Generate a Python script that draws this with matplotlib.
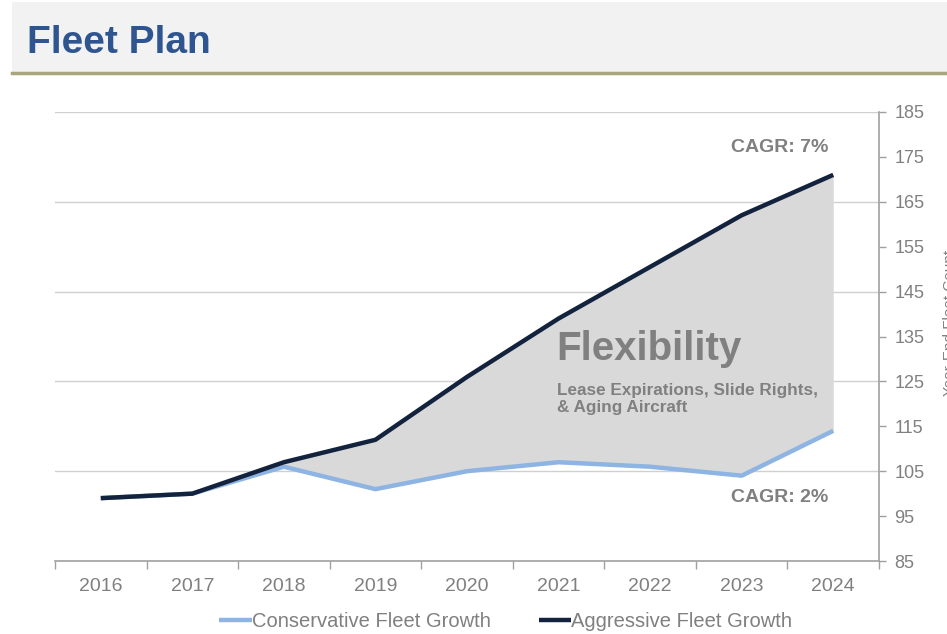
import numpy as np
import matplotlib.pyplot as plt
from matplotlib.patches import Rectangle
from matplotlib.lines import Line2D

plt.rcParams['font.family'] = ['Liberation Sans', 'DejaVu Sans']

YEARS        = ['2016', '2017', '2018', '2019', '2020', '2021', '2022', '2023', '2024']
CONSERVATIVE = [99, 100, 106, 101, 105, 107, 106, 104, 114]
AGGRESSIVE   = [99, 100, 107, 112, 126, 139, 150.5, 162, 171]
Y_TICKS      = list(range(85, 186, 10))
GRID_VALUES  = [105, 125, 145, 165, 185]

NAVY  = '#13233d'
LIGHT = '#8db4e2'
GREY  = '#808080'

fig = plt.figure(figsize=(9.47, 6.34), dpi=100)

# header band with the olive underline
fig.patches.append(Rectangle((12 / 947, 1 - 72 / 634), 1, 70 / 634, transform=fig.transFigure,
                             facecolor='#f2f2f2', edgecolor='none', zorder=0))
fig.add_artist(Line2D([12 / 947, 1], [1 - 73 / 634] * 2, color='#a9a57c', lw=2.5))
fig.text(27 / 947, 1 - 53 / 634, 'Fleet Plan', fontsize=28, fontweight='bold',
         color='#2f5591', va='baseline')

ax = fig.add_axes([55 / 947, 1 - 561 / 634, 824 / 947, 449 / 634])
x = np.arange(len(YEARS))

ax.fill_between(x, CONSERVATIVE, AGGRESSIVE, color='#d9d9d9', lw=0, zorder=1)
ax.plot(x, CONSERVATIVE, color=LIGHT, lw=3.2, zorder=3, solid_capstyle='butt',
        label='Conservative Fleet Growth')
ax.plot(x, AGGRESSIVE, color=NAVY, lw=3.2, zorder=4, solid_capstyle='butt',
        label='Aggressive Fleet Growth')

for g in GRID_VALUES:
    ax.axhline(g, color='#d0d0d0', lw=1, zorder=0)

ax.set_xlim(-0.5, len(YEARS) - 0.5)
ax.set_ylim(85, 185)
ax.set_xticks(x)
ax.set_xticklabels(YEARS)
ax.set_xticks(np.arange(-0.5, len(YEARS)), minor=True)
ax.tick_params(axis='x', which='major', length=0, pad=12, labelsize=14, labelcolor=GREY)
ax.tick_params(axis='x', which='minor', length=6, color='#a0a0a0', width=1)

ax.yaxis.tick_right()
ax.set_yticks(Y_TICKS)
ax.tick_params(axis='y', length=5, color='#a0a0a0', width=1, pad=6,
               labelsize=13, labelcolor=GREY)

for side in ('top', 'left'):
    ax.spines[side].set_visible(False)
for side in ('bottom', 'right'):
    ax.spines[side].set_color('#a0a0a0')
    ax.spines[side].set_linewidth(1.2)

ax.text(4.98, 129.8, 'Flexibility', fontsize=29, fontweight='bold', color=GREY, va='baseline')
ax.text(4.98, 122.0, 'Lease Expirations, Slide Rights,', fontsize=12.3, fontweight='bold',
        color=GREY, va='baseline')
ax.text(4.98, 118.2, '& Aging Aircraft', fontsize=12.3, fontweight='bold',
        color=GREY, va='baseline')
ax.text(7.42, 176.1, 'CAGR: 7%', fontsize=14, fontweight='bold', color=GREY,
        ha='center', va='baseline')
ax.text(7.42, 98.1, 'CAGR: 2%', fontsize=14, fontweight='bold', color=GREY,
        ha='center', va='baseline')

fig.text(943 / 947, 1 - 323 / 634, 'Year-End Fleet Count', rotation=90, fontsize=11,
         color=GREY, ha='left', va='center')

leg = ax.legend(loc='center', bbox_to_anchor=(0.547, -0.134), ncol=2, frameon=False,
                fontsize=14.5, handlelength=1.6, handletextpad=0.0, columnspacing=2.4)
for t in leg.get_texts():
    t.set_color(GREY)

fig.savefig('out.png', dpi=100)
